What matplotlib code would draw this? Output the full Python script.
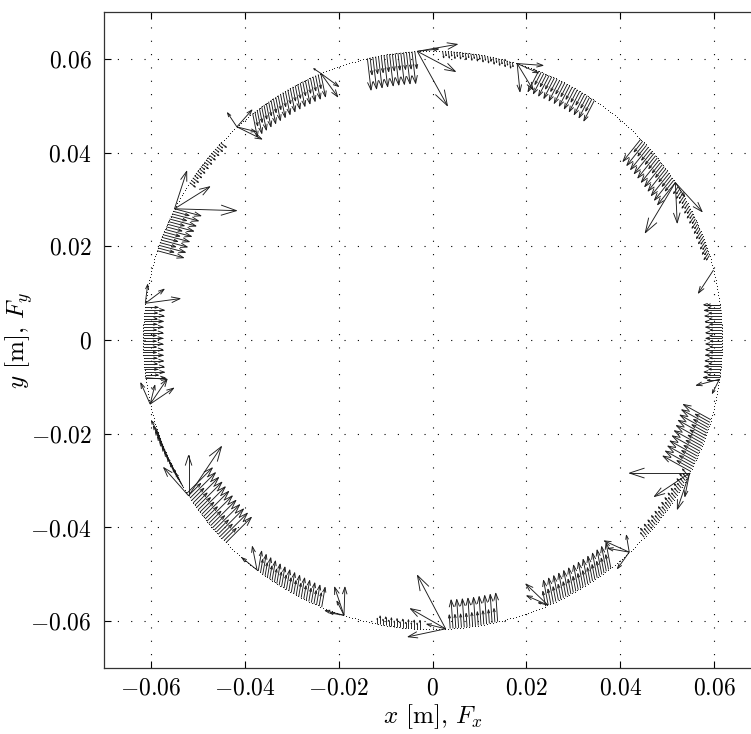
import numpy as np
import matplotlib.pyplot as plt
from matplotlib.collections import LineCollection

plt.rcParams['mathtext.fontset'] = 'cm'
plt.rcParams['font.family'] = ['cmr10', 'DejaVu Serif']
plt.rcParams['axes.formatter.use_mathtext'] = True

# radius of the tool path [m]
R = 0.0617

# dense force clusters along the path: start / end angle [deg], force [N scaled to m], length alternation
clus_t0 = [103.0, 68.5, 44.0, 32.0, 7.0, -16.0, -28.0, -52.0, -77.0, -92.5, -112.5, -135.5, -149.5, -172.5, 162.0, 147.0, 128.4, 88.0]
clus_t1 = [93.5, 56.0, 33.0, 17.0, -8.0, -27.0, -43.0, -67.0, -86.5, -101.0, -127.0, -148.0, -161.0, -186.5, 153.0, 137.0, 112.7, 74.0]
clus_fx = [0.0006, -0.0018, -0.0028, -0.0008, -0.0030, -0.0045, -0.0010, -0.0008, -0.0003, 0.0000, 0.0006, 0.0040, -0.0012, 0.0035, 0.0045, 0.0010, 0.0008, 0.0002]
clus_fy = [-0.0052, -0.0035, -0.0035, -0.0012, 0.0000, 0.0025, 0.0012, 0.0042, 0.0045, 0.0015, 0.0035, 0.0040, 0.0022, 0.0000, -0.0012, -0.0008, -0.0040, -0.0012]
clus_zig = [0.30, 0.25, 0.35, 0.20, 0.15, 0.30, 0.20, 0.25, 0.35, 0.20, 0.20, 0.35, 0.30, 0.20, 0.25, 0.20, 0.25, 0.20]

# large force peaks: angle on the path [deg] and force components
big_t = [93.0, 93.0, 93.0, 93.0,
         73.0, 73.0, 73.0, 73.0,
         33.0, 33.0, 33.0, 33.0,
         14.0, 7.0,
         -7.8, -7.8,
         -27.4, -27.4, -27.4, -27.4,
         -47.2, -47.2, -47.2, -47.2,
         -66.5, -66.5, -66.5,
         -87.4, -87.4, -87.4, -87.4,
         -107.8, -107.8, -107.8, -107.8, -107.8,
         -127.3, -127.3,
         -147.4, -147.4, -147.4,
         -167.2, -167.2, -167.2, -167.2, -172.5,
         172.7, 172.7, 172.7,
         153.0, 153.0, 153.0,
         132.5, 132.5, 132.5, 132.5,
         112.7, 112.7, 112.7]
big_fx = [0.0064, 0.0081, 0.0085, 0.0045,
          0.0006, 0.0055, 0.0034, 0.0045,
          -0.0064, 0.0004, 0.0057, 0.0020,
          -0.0032, -0.0026,
          -0.0049, -0.0015,
          -0.0128, -0.0075, -0.0026, -0.0010,
          -0.0053, -0.0045, -0.0025, -0.0006,
          -0.0047, -0.0045, -0.0020,
          -0.0060, -0.0075, -0.0080, -0.0040,
          0.0002, -0.0020, -0.0040, -0.0030, -0.0015,
          -0.0010, -0.0032,
          0.0000, 0.0070, -0.0053,
          0.0050, 0.0036, -0.0020, 0.0010, 0.0045,
          0.0074, 0.0040, 0.0005,
          0.0132, 0.0075, 0.0026,
          0.0053, 0.0032, -0.0020, 0.0040,
          0.0038, 0.0036, -0.0015]
big_fy = [-0.0116, -0.0043, 0.0015, 0.0005,
          -0.0060, -0.0004, -0.0056, -0.0020,
          -0.0107, -0.0086, -0.0062, -0.0030,
          -0.0049, 0.0000,
          -0.0013, -0.0030,
          0.0000, -0.0050, -0.0077, -0.0050,
          0.0024, 0.0008, -0.0035, 0.0036,
          0.0045, 0.0020, 0.0005,
          0.0114, 0.0043, -0.0017, 0.0010,
          0.0060, 0.0060, 0.0010, 0.0005, 0.0030,
          0.0050, 0.0026,
          0.0086, 0.0105, 0.0060,
          0.0034, 0.0053, 0.0045, 0.0040, -0.0003,
          0.0010, 0.0030, 0.0040,
          -0.0004, 0.0047, 0.0080,
          -0.0026, 0.0036, 0.0030, -0.0010,
          -0.0028, -0.0050, 0.0010]

ticks = [-0.06, -0.04, -0.02, 0.0, 0.02, 0.04, 0.06]
tick_labels = [r'$-0.06$', r'$-0.04$', r'$-0.02$', r'$0$', r'$0.02$', r'$0.04$', r'$0.06$']


def quiver_segments(x, y, u, v, alpha=0.25, beta=0.33):
    # shaft plus open two-line head, like matlab's quiver
    segs = []
    for xi, yi, ui, vi in zip(x, y, u, v):
        tx, ty = xi + ui, yi + vi
        segs.append([(xi, yi), (tx, ty)])
        segs.append([(tx - alpha * (ui + beta * vi), ty - alpha * (vi - beta * ui)),
                     (tx, ty),
                     (tx - alpha * (ui - beta * vi), ty - alpha * (vi + beta * ui))])
    return segs


px, py, pu, pv = [], [], [], []
step = 0.55
for t0, t1, fx, fy, z in zip(clus_t0, clus_t1, clus_fx, clus_fy, clus_zig):
    n = int(abs(t1 - t0) / step) + 1
    th = np.radians(np.linspace(t0, t1, n))
    k = np.where(np.arange(n) % 2 == 0, 1 + z, 1 - z)
    px.extend(R * np.cos(th))
    py.extend(R * np.sin(th))
    pu.extend(fx * k)
    pv.extend(fy * k)

bt = np.radians(big_t)
px.extend(R * np.cos(bt))
py.extend(R * np.sin(bt))
pu.extend(big_fx)
pv.extend(big_fy)

fig = plt.figure(figsize=(7.51, 7.34), dpi=100)
ax = fig.add_axes([0.1385, 0.0899, 0.8748, 0.8937])

# sampled path points
path = np.radians(np.arange(0, 360, 0.6))
ax.scatter(R * np.cos(path), R * np.sin(path), s=0.6, c='k', linewidths=0, zorder=3)

lc = LineCollection(quiver_segments(px, py, pu, pv), colors='#1a1a1a', linewidths=0.65, zorder=4)
ax.add_collection(lc)

ax.set_xlim(-0.07, 0.07)
ax.set_ylim(-0.07, 0.07)
ax.set_xticks(ticks)
ax.set_xticklabels(tick_labels)
ax.set_yticks(ticks)
ax.set_yticklabels(tick_labels)
ax.tick_params(direction='in', top=True, right=True, length=5, width=0.8, labelsize=17)
ax.tick_params(axis='x', pad=7)
ax.tick_params(axis='y', pad=9)
ax.grid(True, linestyle=(0, (1, 11)), color='k', linewidth=0.8)
for s in ax.spines.values():
    s.set_linewidth(0.9)
    s.set_color('#333333')

ax.set_xlabel(r'$x$ [m], $F_x$', fontsize=18, labelpad=2)
ax.set_ylabel(r'$y$ [m], $F_y$', fontsize=18)
ax.yaxis.set_label_coords(-0.105, 0.5)

fig.savefig('out.png', dpi=100)
